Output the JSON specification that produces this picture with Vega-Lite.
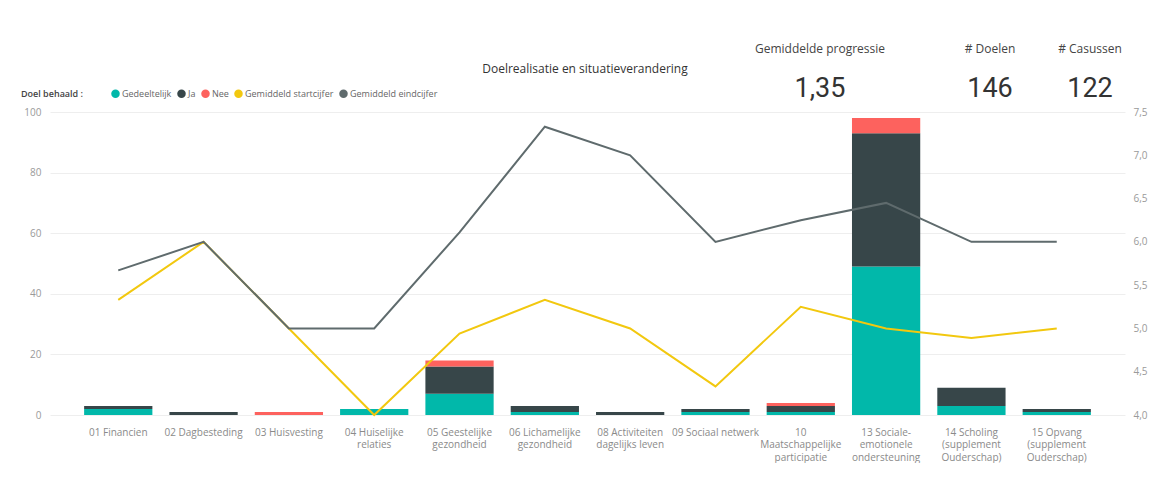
{
  "$schema": "https://vega.github.io/schema/vega-lite/v6.json",
  "background": "white",
  "padding": {"left": 21, "top": 25, "right": 0, "bottom": 0},
  "config": {
    "font": "Open Sans",
    "view": {"stroke": null},
    "text": {"font": "Open Sans"}
  },
  "vconcat": [
    {
      "hconcat": [
        {
          "width": 390,
          "height": 87,
          "data": {"values": []},
          "mark": "text"
        },
        {
          "width": 290,
          "height": 87,
          "data": {"values": [{"tekst": "Doelrealisatie en situatieverandering"}]},
          "mark": {"type": "text", "font": "Open Sans", "fontSize": 12, "color": "#333333"},
          "encoding": {"text": {"field": "tekst"}}
        },
        {
          "width": 180,
          "height": 87,
          "data": {"values": [{"rol": "label", "tekst": "Gemiddelde progressie"}, {"rol": "waarde", "tekst": "1,35"}]},
          "layer": [
            {
              "transform": [{"filter": "datum.rol == 'label'"}],
              "mark": {"type": "text", "font": "Open Sans", "fontSize": 12, "color": "#444444"},
              "encoding": {
                "y": {"field": "rol", "type": "nominal", "scale": {"type": "point", "domain": ["label", "waarde"], "padding": 0.5875}, "axis": null},
                "text": {"field": "tekst"}
              }
            },
            {
              "transform": [{"filter": "datum.rol == 'waarde'"}],
              "mark": {"type": "text", "font": "Roboto", "fontSize": 27, "color": "#333333"},
              "encoding": {
                "y": {"field": "rol", "type": "nominal", "scale": {"type": "point", "domain": ["label", "waarde"], "padding": 0.5875}, "axis": null},
                "text": {"field": "tekst"}
              }
            }
          ]
        },
        {
          "width": 160,
          "height": 87,
          "data": {"values": [{"rol": "label", "tekst": "# Doelen"}, {"rol": "waarde", "tekst": "146"}]},
          "layer": [
            {
              "transform": [{"filter": "datum.rol == 'label'"}],
              "mark": {"type": "text", "font": "Open Sans", "fontSize": 12, "color": "#444444"},
              "encoding": {
                "y": {"field": "rol", "type": "nominal", "scale": {"type": "point", "domain": ["label", "waarde"], "padding": 0.5875}, "axis": null},
                "text": {"field": "tekst"}
              }
            },
            {
              "transform": [{"filter": "datum.rol == 'waarde'"}],
              "mark": {"type": "text", "font": "Roboto", "fontSize": 27, "color": "#333333"},
              "encoding": {
                "y": {"field": "rol", "type": "nominal", "scale": {"type": "point", "domain": ["label", "waarde"], "padding": 0.5875}, "axis": null},
                "text": {"field": "tekst"}
              }
            }
          ]
        },
        {
          "width": 40,
          "height": 87,
          "data": {"values": [{"rol": "label", "tekst": "# Casussen"}, {"rol": "waarde", "tekst": "122"}]},
          "layer": [
            {
              "transform": [{"filter": "datum.rol == 'label'"}],
              "mark": {"type": "text", "font": "Open Sans", "fontSize": 12, "color": "#444444"},
              "encoding": {
                "y": {"field": "rol", "type": "nominal", "scale": {"type": "point", "domain": ["label", "waarde"], "padding": 0.5875}, "axis": null},
                "text": {"field": "tekst"}
              }
            },
            {
              "transform": [{"filter": "datum.rol == 'waarde'"}],
              "mark": {"type": "text", "font": "Roboto", "fontSize": 27, "color": "#333333"},
              "encoding": {
                "y": {"field": "rol", "type": "nominal", "scale": {"type": "point", "domain": ["label", "waarde"], "padding": 0.5875}, "axis": null},
                "text": {"field": "tekst"}
              }
            }
          ]
        }
      ],
      "spacing": 0,
      "bounds": "flush",
      "resolve": {"scale": {"x": "independent", "y": "independent"}}
    },
    {
      "width": 1075,
      "height": 303,
      "layer": [
        {
          "data": {"values": [
            {"categorie": "01 Financien", "status": "Gedeeltelijk", "aantal": 2},
            {"categorie": "01 Financien", "status": "Ja", "aantal": 1},
            {"categorie": "02 Dagbesteding", "status": "Ja", "aantal": 1},
            {"categorie": "03 Huisvesting", "status": "Nee", "aantal": 1},
            {"categorie": "04 Huiselijke relaties", "status": "Gedeeltelijk", "aantal": 2},
            {"categorie": "05 Geestelijke gezondheid", "status": "Gedeeltelijk", "aantal": 7},
            {"categorie": "05 Geestelijke gezondheid", "status": "Ja", "aantal": 9},
            {"categorie": "05 Geestelijke gezondheid", "status": "Nee", "aantal": 2},
            {"categorie": "06 Lichamelijke gezondheid", "status": "Gedeeltelijk", "aantal": 1},
            {"categorie": "06 Lichamelijke gezondheid", "status": "Ja", "aantal": 2},
            {"categorie": "08 Activiteiten dagelijks leven", "status": "Ja", "aantal": 1},
            {"categorie": "09 Sociaal netwerk", "status": "Gedeeltelijk", "aantal": 1},
            {"categorie": "09 Sociaal netwerk", "status": "Ja", "aantal": 1},
            {"categorie": "10 Maatschappelijke participatie", "status": "Gedeeltelijk", "aantal": 1},
            {"categorie": "10 Maatschappelijke participatie", "status": "Ja", "aantal": 2},
            {"categorie": "10 Maatschappelijke participatie", "status": "Nee", "aantal": 1},
            {"categorie": "13 Sociale-emotionele ondersteuning", "status": "Gedeeltelijk", "aantal": 49},
            {"categorie": "13 Sociale-emotionele ondersteuning", "status": "Ja", "aantal": 44},
            {"categorie": "13 Sociale-emotionele ondersteuning", "status": "Nee", "aantal": 5},
            {"categorie": "14 Scholing (supplement Ouderschap)", "status": "Gedeeltelijk", "aantal": 3},
            {"categorie": "14 Scholing (supplement Ouderschap)", "status": "Ja", "aantal": 6},
            {"categorie": "15 Opvang (supplement Ouderschap)", "status": "Gedeeltelijk", "aantal": 1},
            {"categorie": "15 Opvang (supplement Ouderschap)", "status": "Ja", "aantal": 1}
          ]},
          "mark": {"type": "bar"},
          "encoding": {
            "x": {
              "field": "categorie", "type": "nominal",
              "sort": ["01 Financien", "02 Dagbesteding", "03 Huisvesting", "04 Huiselijke relaties", "05 Geestelijke gezondheid", "06 Lichamelijke gezondheid", "08 Activiteiten dagelijks leven", "09 Sociaal netwerk", "10 Maatschappelijke participatie", "13 Sociale-emotionele ondersteuning", "14 Scholing (supplement Ouderschap)", "15 Opvang (supplement Ouderschap)"],
              "scale": {"paddingInner": 0.2, "paddingOuter": 0.4},
              "axis": {
                "title": null, "labelAngle": 0, "ticks": false, "domain": false,
                "labelPadding": 12, "labelFontSize": 10, "labelColor": "#8a8a8a", "labelLineHeight": 12.6,
                "labelBaseline": "top", "labelLimit": 0,
                "labelExpr": "datum.value == '04 Huiselijke relaties' ? ['04 Huiselijke','relaties'] : datum.value == '05 Geestelijke gezondheid' ? ['05 Geestelijke','gezondheid'] : datum.value == '06 Lichamelijke gezondheid' ? ['06 Lichamelijke','gezondheid'] : datum.value == '08 Activiteiten dagelijks leven' ? ['08 Activiteiten','dagelijks leven'] : datum.value == '10 Maatschappelijke participatie' ? ['10','Maatschappelijke','participatie'] : datum.value == '13 Sociale-emotionele ondersteuning' ? ['13 Sociale-','emotionele','ondersteuning'] : datum.value == '14 Scholing (supplement Ouderschap)' ? ['14 Scholing','(supplement','Ouderschap)'] : datum.value == '15 Opvang (supplement Ouderschap)' ? ['15 Opvang','(supplement','Ouderschap)'] : datum.value"
              }
            },
            "y": {
              "field": "aantal", "type": "quantitative", "stack": "zero",
              "scale": {"domain": [0, 100]},
              "axis": {
                "title": null, "values": [0, 20, 40, 60, 80, 100], "grid": true, "gridColor": "#eeeeee",
                "domain": false, "ticks": false, "labelPadding": 9, "labelFontSize": 10, "labelColor": "#9a9a9a"
              }
            },
            "order": {"field": "status", "type": "nominal", "sort": "ascending"},
            "color": {
              "field": "status", "type": "nominal",
              "scale": {
                "domain": ["Gedeeltelijk", "Ja", "Nee", "Gemiddeld startcijfer", "Gemiddeld eindcijfer"],
                "range": ["#01B8AA", "#374649", "#FD625E", "#F2C80F", "#5F6B6D"]
              },
              "legend": {
                "title": "Doel behaald :", "orient": "none", "legendX": -29, "legendY": 64,
                "direction": "horizontal", "titleOrient": "left", "titlePadding": 28,
                "titleFontSize": 9, "titleFontWeight": 600, "titleColor": "#444444",
                "symbolType": "circle", "symbolSize": 72, "symbolStrokeWidth": 0, "symbolOpacity": 1,
                "labelFontSize": 9, "labelColor": "#666666", "labelOffset": 2, "columnPadding": 5
              }
            }
          }
        },
        {
          "data": {"values": [
            {"categorie": "01 Financien", "serie": "Gemiddeld startcijfer", "cijfer": 5.33},
            {"categorie": "02 Dagbesteding", "serie": "Gemiddeld startcijfer", "cijfer": 6.0},
            {"categorie": "03 Huisvesting", "serie": "Gemiddeld startcijfer", "cijfer": 5.0},
            {"categorie": "04 Huiselijke relaties", "serie": "Gemiddeld startcijfer", "cijfer": 4.0},
            {"categorie": "05 Geestelijke gezondheid", "serie": "Gemiddeld startcijfer", "cijfer": 4.94},
            {"categorie": "06 Lichamelijke gezondheid", "serie": "Gemiddeld startcijfer", "cijfer": 5.33},
            {"categorie": "08 Activiteiten dagelijks leven", "serie": "Gemiddeld startcijfer", "cijfer": 5.0},
            {"categorie": "09 Sociaal netwerk", "serie": "Gemiddeld startcijfer", "cijfer": 4.33},
            {"categorie": "10 Maatschappelijke participatie", "serie": "Gemiddeld startcijfer", "cijfer": 5.25},
            {"categorie": "13 Sociale-emotionele ondersteuning", "serie": "Gemiddeld startcijfer", "cijfer": 5.0},
            {"categorie": "14 Scholing (supplement Ouderschap)", "serie": "Gemiddeld startcijfer", "cijfer": 4.89},
            {"categorie": "15 Opvang (supplement Ouderschap)", "serie": "Gemiddeld startcijfer", "cijfer": 5.0},
            {"categorie": "01 Financien", "serie": "Gemiddeld eindcijfer", "cijfer": 5.67},
            {"categorie": "02 Dagbesteding", "serie": "Gemiddeld eindcijfer", "cijfer": 6.0},
            {"categorie": "03 Huisvesting", "serie": "Gemiddeld eindcijfer", "cijfer": 5.0},
            {"categorie": "04 Huiselijke relaties", "serie": "Gemiddeld eindcijfer", "cijfer": 5.0},
            {"categorie": "05 Geestelijke gezondheid", "serie": "Gemiddeld eindcijfer", "cijfer": 6.11},
            {"categorie": "06 Lichamelijke gezondheid", "serie": "Gemiddeld eindcijfer", "cijfer": 7.33},
            {"categorie": "08 Activiteiten dagelijks leven", "serie": "Gemiddeld eindcijfer", "cijfer": 7.0},
            {"categorie": "09 Sociaal netwerk", "serie": "Gemiddeld eindcijfer", "cijfer": 6.0},
            {"categorie": "10 Maatschappelijke participatie", "serie": "Gemiddeld eindcijfer", "cijfer": 6.25},
            {"categorie": "13 Sociale-emotionele ondersteuning", "serie": "Gemiddeld eindcijfer", "cijfer": 6.45},
            {"categorie": "14 Scholing (supplement Ouderschap)", "serie": "Gemiddeld eindcijfer", "cijfer": 6.0},
            {"categorie": "15 Opvang (supplement Ouderschap)", "serie": "Gemiddeld eindcijfer", "cijfer": 6.0}
          ]},
          "mark": {"type": "line", "strokeWidth": 2},
          "encoding": {
            "x": {
              "field": "categorie", "type": "nominal",
              "sort": ["01 Financien", "02 Dagbesteding", "03 Huisvesting", "04 Huiselijke relaties", "05 Geestelijke gezondheid", "06 Lichamelijke gezondheid", "08 Activiteiten dagelijks leven", "09 Sociaal netwerk", "10 Maatschappelijke participatie", "13 Sociale-emotionele ondersteuning", "14 Scholing (supplement Ouderschap)", "15 Opvang (supplement Ouderschap)"]
            },
            "y": {
              "field": "cijfer", "type": "quantitative",
              "scale": {"domain": [4, 7.5], "zero": false, "nice": false},
              "axis": {
                "orient": "right", "title": null, "values": [4, 4.5, 5, 5.5, 6, 6.5, 7, 7.5], "grid": false,
                "domain": false, "ticks": false, "labelPadding": 8, "labelFontSize": 10, "labelColor": "#9a9a9a",
                "labelExpr": "replace(format(datum.value, '.1f'), '.', ',')"
              }
            },
            "color": {"field": "serie", "type": "nominal"}
          }
        }
      ],
      "resolve": {"scale": {"y": "independent"}}
    }
  ],
  "spacing": -21
}
